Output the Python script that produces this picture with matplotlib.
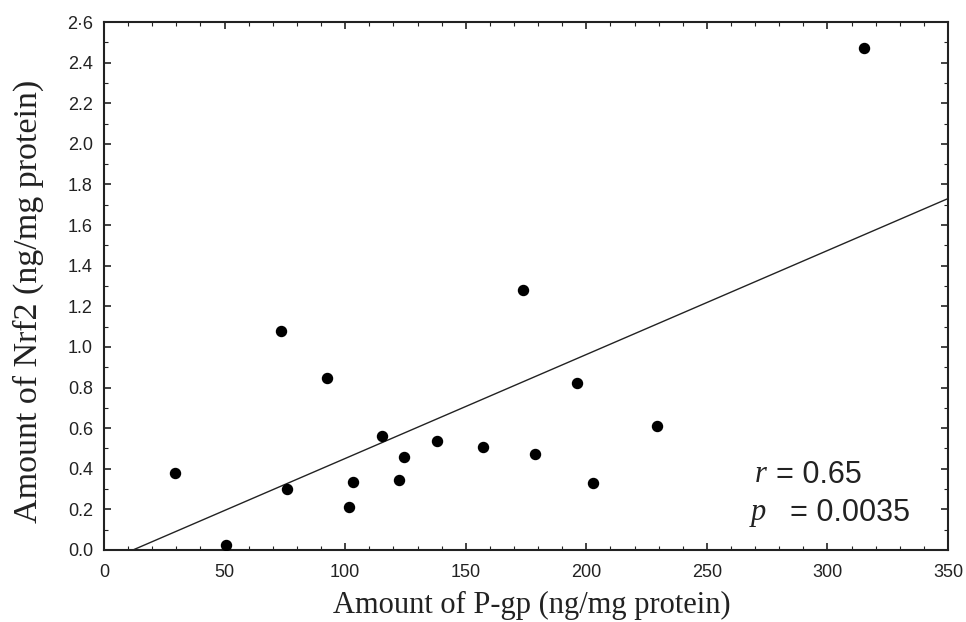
import matplotlib.pyplot as plt
from matplotlib.ticker import MultipleLocator
import numpy as np

# P-gp (x) vs Nrf2 (y), ng/mg protein
pgp = [29.4, 50.6, 73.4, 75.9, 92.5, 101.6, 103.3, 115.3, 122.4, 124.4,
       138.1, 157.2, 173.8, 178.8, 196.2, 202.8, 229.4, 315.2]
nrf2 = [0.38, 0.025, 1.08, 0.30, 0.845, 0.21, 0.335, 0.56, 0.345, 0.46,
        0.537, 0.507, 1.28, 0.473, 0.82, 0.33, 0.61, 2.47]

# regression line
intercept = -0.0614
slope = 0.00512

xticks = [0, 50, 100, 150, 200, 250, 300, 350]
yticks = [0.0, 0.2, 0.4, 0.6, 0.8, 1.0, 1.2, 1.4, 1.6, 1.8, 2.0, 2.2, 2.4, 2.6]
ylabels = ["0.0", "0.2", "0.4", "0.6", "0.8", "1.0", "1.2", "1.4", "1.6",
           "1.8", "2.0", "2.2", "2.4", "2\u00b76"]

fig = plt.figure(figsize=(9.66, 6.22), dpi=100)
ax = fig.add_axes([0.1077, 0.1158, 0.8737, 0.8488])

ax.scatter(pgp, nrf2, s=52, color="black", zorder=3)

xl = np.array([0, 350])
ax.plot(xl, intercept + slope * xl, color="#222222", lw=1.0)

ax.set_xlim(0, 350)
ax.set_ylim(0, 2.6)
ax.set_xticks(xticks)
ax.set_yticks(yticks)
ax.set_yticklabels(ylabels)
ax.xaxis.set_minor_locator(MultipleLocator(10))
ax.yaxis.set_minor_locator(MultipleLocator(0.1))
ax.tick_params(which="both", direction="in", top=True, right=True,
               colors="#222222", labelcolor="#222222")
ax.tick_params(which="major", length=5, width=1.2, labelsize=13)
ax.tick_params(which="minor", length=3, width=0.8)
ax.tick_params(axis="x", pad=10)
ax.tick_params(axis="y", pad=8)
for lab in ax.get_xticklabels() + ax.get_yticklabels():
    lab.set_family("Liberation Sans")
for sp in ax.spines.values():
    sp.set_linewidth(1.5)
    sp.set_color("#222222")

fig.text(0.551, 0.027, "Amount of P-gp (ng/mg protein)", family="Liberation Serif",
         fontsize=22, color="#222222", ha="center", va="center")
fig.text(0.029, 0.515, "Amount of Nrf2 (ng/mg protein)", family="Liberation Serif",
         fontsize=24.5, color="#222222", ha="center", va="center", rotation=90)

ax.text(270, 0.37, "r", family="Liberation Serif", style="italic", fontsize=22,
        color="#222222", va="center")
ax.text(278.7, 0.37, "= 0.65", family="Liberation Sans", fontsize=22,
        color="#222222", va="center")
ax.text(268, 0.183, "p", family="Liberation Serif", style="italic", fontsize=22,
        color="#222222", va="center")
ax.text(284.5, 0.183, "= 0.0035", family="Liberation Sans", fontsize=22,
        color="#222222", va="center")

fig.savefig("out.png", dpi=100)
